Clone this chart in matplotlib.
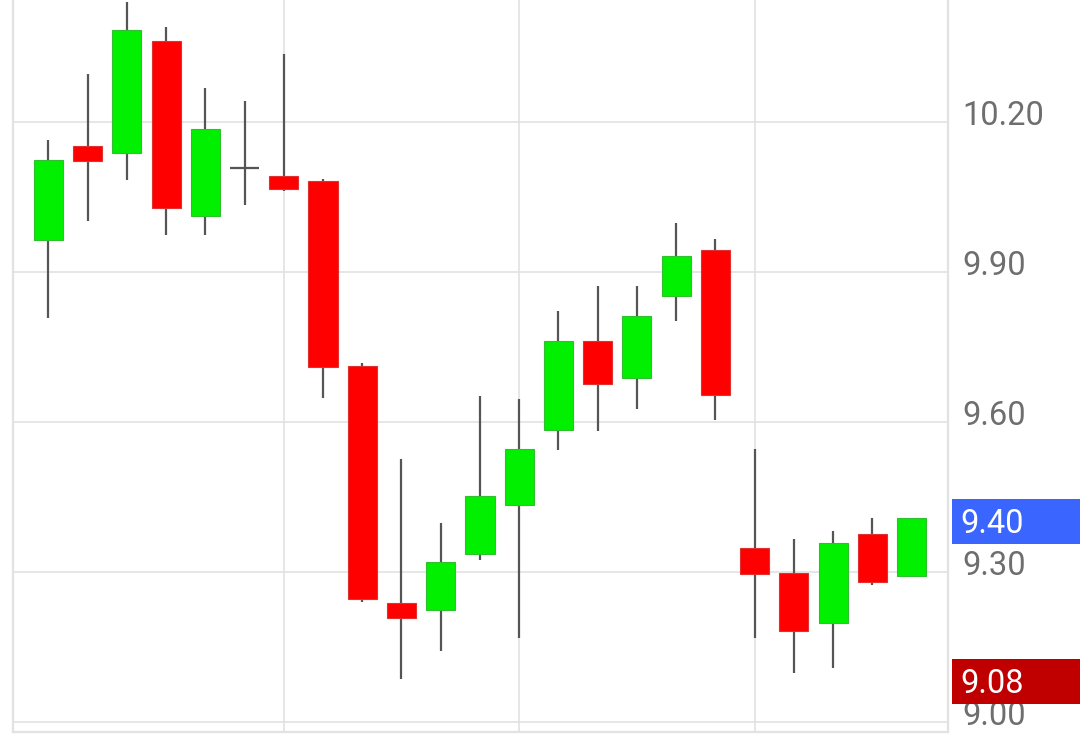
import matplotlib
matplotlib.use("Agg")
import matplotlib.pyplot as plt
from matplotlib.patches import Rectangle
import matplotlib.transforms as mtransforms

# ---- data ----
opens  = [9.963, 10.152, 10.138, 10.362, 10.012, 10.108, 10.092, 10.081, 9.712, 9.238,
          9.224, 9.335, 9.434, 9.583, 9.761, 9.688, 9.852, 9.943, 9.348, 9.298,
          9.198, 9.375, 9.292]
highs  = [10.164, 10.296, 10.440, 10.390, 10.268, 10.241, 10.335, 10.086, 9.718, 9.525,
          9.398, 9.652, 9.646, 9.822, 9.872, 9.872, 9.998, 9.965, 9.546, 9.365,
          9.382, 9.408, 9.408]
lows   = [9.808, 10.001, 10.083, 9.973, 9.973, 10.033, 10.061, 9.648, 9.240, 9.086,
          9.142, 9.323, 9.168, 9.543, 9.582, 9.625, 9.802, 9.603, 9.168, 9.098,
          9.108, 9.273, 9.292]
closes = [10.124, 10.122, 10.383, 10.028, 10.185, 10.108, 10.066, 9.710, 9.246, 9.208,
          9.320, 9.452, 9.545, 9.761, 9.676, 9.811, 9.932, 9.654, 9.295, 9.181,
          9.358, 9.280, 9.408]
price_ticks = [9.00, 9.30, 9.60, 9.90, 10.20]
tick_labels = ["9.00", "9.30", "9.60", "9.90", "10.20"]
last_price = 9.40
last_label = "9.40"
ref_price = 9.08
ref_label = "9.08"
vgrid_positions = [6, 12, 18]

# ---- style ----
UP = "#00f000"
UP_EDGE = "#2fbf2f"
DN = "#ff0000"
DN_EDGE = "#e03030"
WICK = "#555555"
GRID = "#e2e2e2"
LABEL = "#6e6e6e"

plt.rcParams['font.family'] = ['Roboto', 'DejaVu Sans']

fig = plt.figure(figsize=(10.8, 7.34), dpi=100)
ax = fig.add_axes([13 / 1080, 2.3 / 734, (947.7 - 13) / 1080, (734 - 2.3) / 734])
ax.set_xlim(-0.8995, 22.918)
ax.set_ylim(8.980, 10.443)

ax.set_yticks(price_ticks)
ax.set_xticks(vgrid_positions)
ax.grid(True, color=GRID, linewidth=1.2, zorder=0)
ax.tick_params(left=False, bottom=False, right=False, top=False,
               labelleft=False, labelbottom=False)
for s in ["left", "right", "bottom"]:
    ax.spines[s].set_color(GRID)
    ax.spines[s].set_linewidth(1.6)
ax.spines["top"].set_visible(False)
ax.set_axisbelow(True)

xs = list(range(len(opens)))
w = 0.74
for x, o, h, l, c in zip(xs, opens, highs, lows, closes):
    if h > l:
        ax.vlines(x, l, h, color=WICK, linewidth=1.6, zorder=2)
    if abs(c - o) < 1e-9:
        ax.hlines(o, x - w / 2, x + w / 2, color=WICK, linewidth=1.6, zorder=3)
    else:
        up = c > o
        ax.bar(x, abs(c - o), bottom=min(o, c), width=w,
               color=UP if up else DN, edgecolor=UP_EDGE if up else DN_EDGE,
               linewidth=0.8, zorder=3)

# right-side price labels
trans = mtransforms.blended_transform_factory(ax.transAxes, ax.transData)
lx = (962 - 13) / (947.7 - 13)
for p, t in zip(price_ticks, tick_labels):
    ax.text(lx, p - 0.007, t, transform=trans, ha="left", va="baseline",
            fontsize=23.5, color=LABEL, clip_on=False, zorder=5)

box_x0 = (951.7 - 13) / (947.7 - 13)
box_w = (1080 - 951.7) / (947.7 - 13) + 0.01
box_h = 0.089
for p, t, col in [(last_price, last_label, "#3a66ff"), (ref_price, ref_label, "#c00000")]:
    ax.add_patch(Rectangle((box_x0, p - box_h / 2), box_w, box_h, transform=trans,
                           facecolor=col, edgecolor="none", clip_on=False, zorder=6))
    ax.text(lx - 0.002, p - 0.0236, t, transform=trans, ha="left", va="baseline",
            fontsize=23.5, color="white", clip_on=False, zorder=7)

fig.savefig("out.png", dpi=100)
